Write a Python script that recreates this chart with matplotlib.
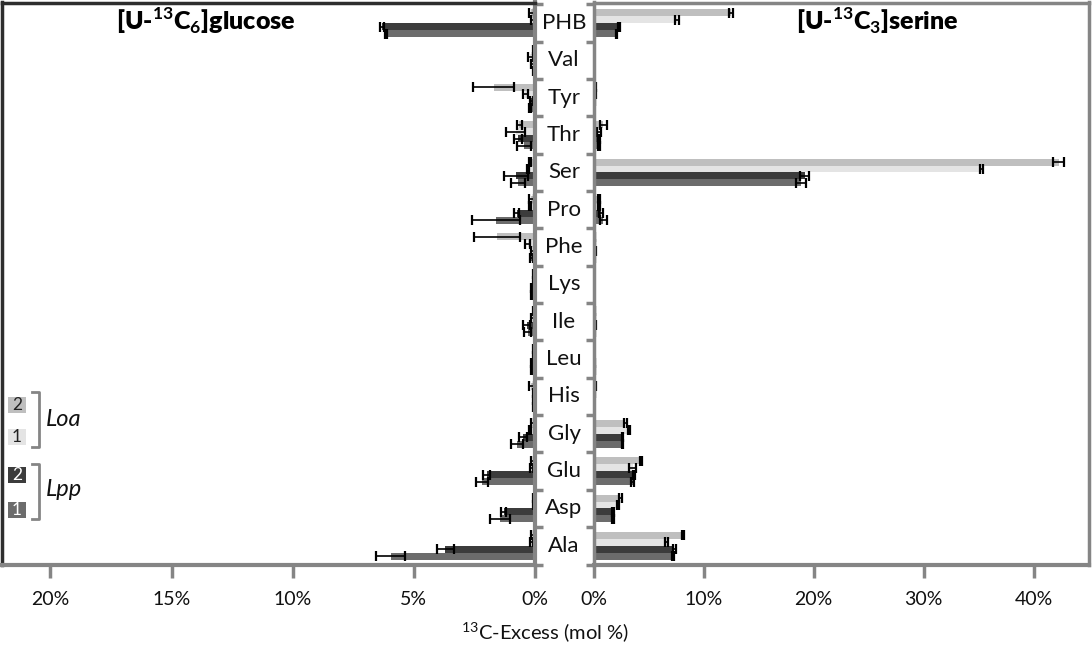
import numpy as np
import matplotlib
matplotlib.use("Agg")
import matplotlib.pyplot as plt
from matplotlib.patches import Rectangle
from matplotlib.lines import Line2D
from matplotlib.transforms import blended_transform_factory

plt.rcParams['font.family'] = ['Lato', 'DejaVu Sans']
plt.rcParams['mathtext.fontset'] = 'custom'
plt.rcParams['mathtext.rm'] = 'Lato'
plt.rcParams['mathtext.bf'] = 'Lato:bold'

# ---- data -------------------------------------------------------------
categories = ["PHB", "Val", "Tyr", "Thr", "Ser", "Pro", "Phe", "Lys",
              "Ile", "Leu", "His", "Gly", "Glu", "Asp", "Ala"]

# [U-13C6]glucose labelling (13C excess, mol %)
glc_loa2 = [0.15, 0.05, 1.70, 0.65, 0.20, 0.15, 1.55, 0.05, 0.05, 0.05, 0.15, 0.10, 0.10, 0.05, 0.10]
glc_loa2_err = [0.10, 0.02, 0.85, 0.10, 0.05, 0.10, 0.95, 0.02, 0.02, 0.02, 0.10, 0.05, 0.05, 0.02, 0.05]
glc_loa1 = [0.10, 0.20, 0.40, 0.80, 0.30, 0.20, 0.30, 0.05, 0.10, 0.05, 0.05, 0.20, 0.15, 0.05, 0.15]
glc_loa1_err = [0.05, 0.10, 0.10, 0.40, 0.05, 0.05, 0.10, 0.02, 0.05, 0.02, 0.02, 0.05, 0.05, 0.02, 0.05]
glc_lpp2 = [6.30, 0.10, 0.15, 0.70, 0.80, 0.75, 0.10, 0.15, 0.35, 0.15, 0.05, 0.50, 2.00, 1.30, 3.70]
glc_lpp2_err = [0.08, 0.05, 0.05, 0.15, 0.50, 0.10, 0.05, 0.03, 0.15, 0.03, 0.02, 0.15, 0.15, 0.10, 0.35]
glc_lpp1 = [6.15, 0.05, 0.20, 0.45, 0.70, 1.60, 0.15, 0.15, 0.30, 0.15, 0.05, 0.75, 2.20, 1.45, 5.95]
glc_lpp1_err = [0.05, 0.05, 0.05, 0.30, 0.30, 1.00, 0.05, 0.03, 0.15, 0.03, 0.02, 0.25, 0.25, 0.40, 0.60]

# [U-13C3]serine labelling (13C excess, mol %)
ser_loa2 = [12.5, 0.05, 0.20, 0.90, 42.3, 0.50, 0.10, 0.05, 0.10, 0.05, 0.20, 2.90, 4.30, 2.45, 8.10]
ser_loa2_err = [0.20, 0.02, 0.05, 0.30, 0.50, 0.10, 0.02, 0.02, 0.05, 0.02, 0.05, 0.15, 0.10, 0.10, 0.10]
ser_loa1 = [7.60, 0.05, 0.15, 0.50, 35.3, 0.50, 0.10, 0.05, 0.10, 0.05, 0.10, 3.20, 3.55, 2.25, 6.65]
ser_loa1_err = [0.15, 0.02, 0.05, 0.20, 0.15, 0.10, 0.02, 0.02, 0.05, 0.02, 0.05, 0.10, 0.30, 0.10, 0.15]
ser_lpp2 = [2.30, 0.05, 0.10, 0.50, 19.2, 0.70, 0.15, 0.05, 0.20, 0.10, 0.05, 2.60, 3.65, 1.75, 7.35]
ser_lpp2_err = [0.10, 0.02, 0.05, 0.10, 0.40, 0.20, 0.05, 0.02, 0.05, 0.02, 0.02, 0.05, 0.10, 0.10, 0.15]
ser_lpp1 = [2.10, 0.05, 0.05, 0.50, 18.9, 0.90, 0.10, 0.05, 0.10, 0.10, 0.05, 2.60, 3.55, 1.75, 7.25]
ser_lpp1_err = [0.05, 0.02, 0.02, 0.10, 0.45, 0.30, 0.02, 0.02, 0.05, 0.02, 0.02, 0.05, 0.10, 0.10, 0.10]

left_ticks = [0, 5, 10, 15, 20]
right_ticks = [0, 10, 20, 30, 40]

# ---- style ------------------------------------------------------------
col_loa2 = "#bfbfbf"
col_loa1 = "#e4e4e4"
col_lpp2 = "#3c3c3c"
col_lpp1 = "#6c6c6c"
spine_gray = "#858585"
frame_dark = "#2e2e2e"

W, H = 1092, 650
fig = plt.figure(figsize=(W / 100, H / 100), dpi=100)


def fx(x):
    return x / W


def fy(y):
    return 1 - y / H


top_px, bot_px = 2.5, 564.5
axL = fig.add_axes([fx(2), fy(bot_px), fx(535) - fx(2), fy(top_px) - fy(bot_px)])
axR = fig.add_axes([fx(593.5), fy(bot_px), fx(1088.5) - fx(593.5), fy(top_px) - fy(bot_px)])

n = len(categories)
y = np.arange(n)
bh = 0.186
offsets = [-1.5 * bh, -0.5 * bh, 0.5 * bh, 1.5 * bh]

# row boundaries are 37.54 px apart, starting 2 px below the frame top
row_px = 37.54
y_top = -0.5 - 2.0 / row_px
y_bot = y_top + (bot_px - top_px) / row_px

err_kw = dict(ecolor="black", elinewidth=1.2, capsize=3.5, capthick=1.6)


def draw(ax, series):
    for off, (vals, errs, col) in zip(offsets, series):
        ax.barh(y + off, vals, height=bh, color=col, edgecolor="none",
                xerr=errs, error_kw=err_kw, zorder=2)


draw(axL, [(glc_loa2, glc_loa2_err, col_loa2), (glc_loa1, glc_loa1_err, col_loa1),
           (glc_lpp2, glc_lpp2_err, col_lpp2), (glc_lpp1, glc_lpp1_err, col_lpp1)])
draw(axR, [(ser_loa2, ser_loa2_err, col_loa2), (ser_loa1, ser_loa1_err, col_loa1),
           (ser_lpp2, ser_lpp2_err, col_lpp2), (ser_lpp1, ser_lpp1_err, col_lpp1)])

bounds = np.arange(n + 1) - 0.5

# left panel: mirrored x axis
axL.set_xlim(22, 0)
axL.set_ylim(y_bot, y_top)
axL.set_xticks(left_ticks)
axL.set_xticklabels([f"{t}%" for t in left_ticks])
axL.yaxis.set_ticks_position("right")
axL.set_yticks(bounds)
axL.set_yticklabels([])
for side in ("left", "top"):
    axL.spines[side].set_color(frame_dark)
    axL.spines[side].set_linewidth(2.5)
for side in ("right", "bottom"):
    axL.spines[side].set_color(spine_gray)
    axL.spines[side].set_linewidth(3)

# right panel
axR.set_xlim(0, 45)
axR.set_ylim(y_bot, y_top)
axR.set_xticks(right_ticks)
axR.set_xticklabels([f"{t}%" for t in right_ticks])
axR.set_yticks(bounds)
axR.set_yticklabels([])
for side in ("left", "top", "right"):
    axR.spines[side].set_color(spine_gray)
    axR.spines[side].set_linewidth(2.5)
axR.spines["bottom"].set_color(spine_gray)
axR.spines["bottom"].set_linewidth(3)

for ax in (axL, axR):
    ax.tick_params(axis="y", direction="out", length=6, width=2.5, color=spine_gray)
    ax.tick_params(axis="x", direction="out", length=9, width=2.5, color=spine_gray,
                   labelsize=14, pad=10, labelcolor="#111111")
    ax.set_facecolor("white")

# category names between the panels
tr = blended_transform_factory(fig.transFigure, axL.transData)
for i, c in enumerate(categories):
    fig.text(fx(564), i, c, transform=tr, ha="center", va="center",
             fontsize=16, color="#111111")

# panel titles
fig.text(fx(206), fy(21), r"[U-$^{\mathbf{13}}$C$_{\mathbf{6}}$]glucose",
         ha="center", va="center", fontsize=18, fontweight="heavy")
fig.text(fx(877), fy(21), r"[U-$^{\mathbf{13}}$C$_{\mathbf{3}}$]serine",
         ha="center", va="center", fontsize=18, fontweight="heavy")

# shared axis label
fig.text(fx(545), fy(633), r"$^{13}$C-Excess (mol %)", ha="center", va="center",
         fontsize=14.5, color="#111111")

# legend key: numbered boxes with brackets for each strain
keys = [("2", col_loa2, "#222222", 405), ("1", col_loa1, "#222222", 437),
        ("2", col_lpp2, "white", 475), ("1", col_lpp1, "white", 510)]
for label, fc, tc, yc in keys:
    fig.add_artist(Rectangle((fx(8), fy(yc + 8)), fx(18), fy(yc - 8) - fy(yc + 8),
                             transform=fig.transFigure, facecolor=fc, edgecolor="none"))
    fig.text(fx(17), fy(yc), label, ha="center", va="center", fontsize=12.5, color=tc)

for y0, y1, name, ty in [(392, 447, "Loa", 420), (464, 519, "Lpp", 490)]:
    xs = [fx(32), fx(39), fx(39), fx(32)]
    ys = [fy(y0), fy(y0), fy(y1), fy(y1)]
    fig.add_artist(Line2D(xs, ys, transform=fig.transFigure, color=spine_gray, lw=2))
    fig.text(fx(46), fy(ty), name, ha="left", va="center", fontsize=17,
             fontstyle="italic", color="#111111")

fig.savefig("out.png", dpi=100, facecolor="white")
